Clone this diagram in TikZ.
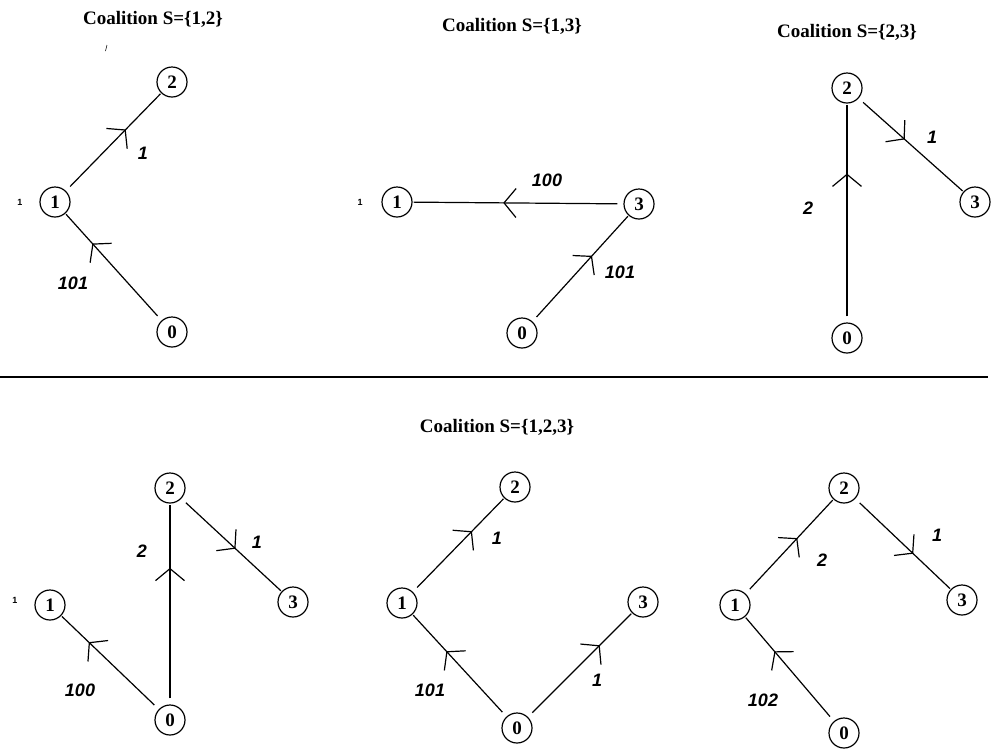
\documentclass[tikz,border=0pt]{standalone}
\usepackage{fontspec}
\setmainfont{Liberation Serif}
\newfontfamily\labfont{Liberation Sans}
\usetikzlibrary{arrows.meta,decorations.markings}
\tikzset{
  vtx/.style={circle,draw,line width=1.2pt,minimum size=30pt,inner sep=0pt,font=\bfseries\fontsize{19}{19}\selectfont},
  edge/.style={line width=1.2pt,shorten <=6pt,shorten >=1pt},
  arr/.style={postaction={decorate,decoration={markings,mark=at position #1 with {\arrow{Straight Barb[length=12pt,width=29pt,line width=1.2pt]}}}}},
  elab/.style={font=\labfont\bfseries\itshape\fontsize{18}{18}\selectfont,inner sep=0pt},
  tiny1/.style={font=\labfont\bfseries\fontsize{9}{9}\selectfont,inner sep=0pt},
  ttl/.style={font=\bfseries\fontsize{19}{19}\selectfont,inner sep=0pt}
}
\begin{document}
\begin{tikzpicture}[x=1pt,y=-1pt]
\useasboundingbox[fill=white] (0,0) rectangle (991,748);
% ---------- Panel 1: S={1,2}
\node[ttl] (t1) at (153,19) {Coalition S=\{1,2\}};
\coordinate (s1) at (105.5,51);
\coordinate (s2) at (107,45);
\draw[line width=0.6pt] (s1) -- (s2);
\node[vtx] (a2) at (172,82) {2};
\node[vtx] (a1) at (55,202) {1};
\node[vtx] (a0) at (172,332) {0};
\node[tiny1] (a1m) at (20,202) {1};
\draw[edge,arr=0.63] (a1) -- (a2);
\draw[edge,arr=0.72] (a0) -- (a1);
\node[elab] (la12) at (143,153) {1};
\node[elab] (la01) at (73,283) {101};
% ---------- Panel 2: S={1,3}
\node[ttl] (t2) at (512,26) {Coalition S=\{1,3\}};
\node[vtx] (b1) at (397,202) {1};
\node[vtx] (b3) at (639,204) {3};
\node[vtx] (b0) at (522,333) {0};
\node[tiny1] (b1m) at (360,202) {1};
\draw[edge,arr=0.57] (b3) -- (b1);
\draw[edge,arr=0.62] (b0) -- (b3);
\node[elab] (lb31) at (547,180) {100};
\node[elab] (lb03) at (620,272) {101};
% ---------- Panel 3: S={2,3}
\node[ttl] (t3) at (847,32) {Coalition S=\{2,3\}};
\node[vtx] (c2) at (847,88) {2};
\node[vtx] (c3) at (975,202) {3};
\node[vtx] (c0) at (847,338) {0};
\draw[edge,arr=0.68] (c0) -- (c2);
\draw[edge,arr=0.44] (c2) -- (c3);
\node[elab] (lc02) at (808,208) {2};
\node[elab] (lc23) at (932,137) {1};
% ---------- separator
\coordinate (h1) at (0,377);
\coordinate (h2) at (988,377);
\draw[line width=1.5pt] (h1) -- (h2);
% ---------- bottom title
\node[ttl] (t4) at (497,427) {Coalition S=\{1,2,3\}};
% ---------- Panel 4
\node[vtx] (d2) at (170,488) {2};
\node[vtx] (d3) at (293,602) {3};
\node[vtx] (d1) at (50,605) {1};
\node[vtx] (d0) at (170,720) {0};
\node[tiny1] (d1m) at (15,600) {1};
\draw[edge,arr=0.68] (d0) -- (d2);
\draw[edge,arr=0.54] (d2) -- (d3);
\draw[edge,arr=0.72] (d0) -- (d1);
\node[elab] (ld02) at (142,551) {2};
\node[elab] (ld23) at (257,542) {1};
\node[elab] (ld01) at (80,690) {100};
% ---------- Panel 5
\node[vtx] (e2) at (515,487) {2};
\node[vtx] (e1) at (402,603) {1};
\node[vtx] (e3) at (643,602) {3};
\node[vtx] (e0) at (517,728) {0};
\draw[edge,arr=0.65] (e1) -- (e2);
\draw[edge,arr=0.64] (e0) -- (e1);
\draw[edge,arr=0.69] (e0) -- (e3);
\node[elab] (le12) at (497,538) {1};
\node[elab] (le01) at (430,690) {101};
\node[elab] (le03) at (597,680) {1};
% ---------- Panel 6
\node[vtx] (f2) at (844,488) {2};
\node[vtx] (f1) at (735,605) {1};
\node[vtx] (f3) at (962,600) {3};
\node[vtx] (f0) at (844,733) {0};
\draw[edge,arr=0.59] (f1) -- (f2);
\draw[edge,arr=0.61] (f2) -- (f3);
\draw[edge,arr=0.67] (f0) -- (f1);
\node[elab] (lf12) at (822,560) {2};
\node[elab] (lf23) at (937,535) {1};
\node[elab] (lf01) at (763,700) {102};
\end{tikzpicture}
\end{document}
